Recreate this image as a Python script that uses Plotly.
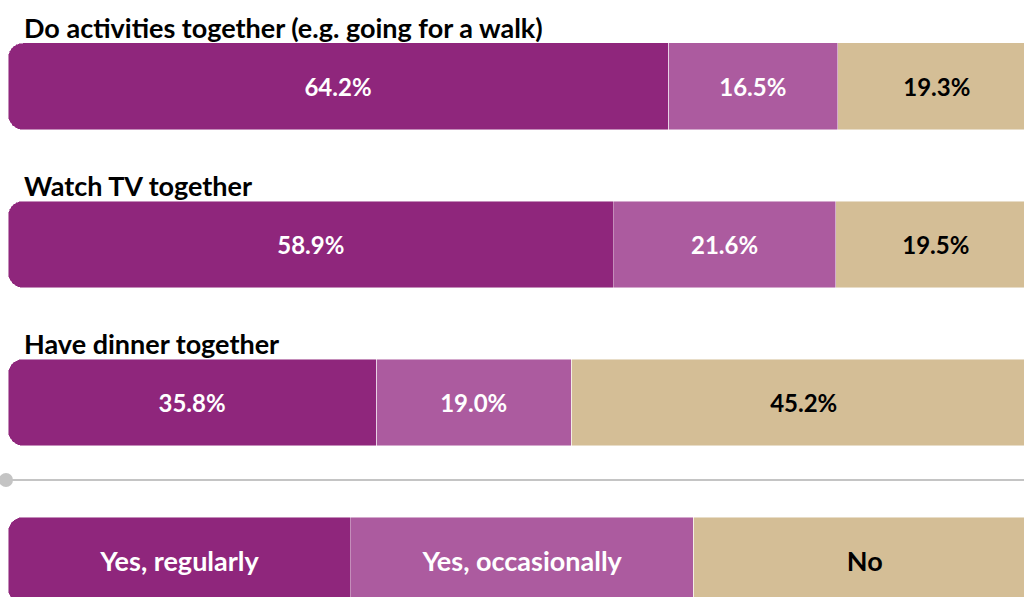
import plotly.graph_objects as go

categories = [
    "Do activities together (e.g. going for a walk)",
    "Watch TV together",
    "Have dinner together",
]
regularly = [64.2, 58.9, 35.8]
occasionally = [16.5, 21.6, 19.0]
no = [19.3, 19.5, 45.2]
legend_labels = ["Yes, regularly", "Yes, occasionally", "No"]
legend_share = 100 / 3

colors = {"reg": "#8F267C", "occ": "#AC5B9F", "no": "#D4BE96"}
FONT = "Lato"

legend_row = "__legend__"
ycats = categories + [legend_row]

fig = go.Figure()
# Stack from right to left (reversed axis) so that the rounded end is on the left
series = [
    (no, legend_labels[2], colors["no"], "black"),
    (occasionally, legend_labels[1], colors["occ"], "white"),
    (regularly, legend_labels[0], colors["reg"], "white"),
]
for vals, lab, col, tcol in series:
    xs = list(vals) + [legend_share]
    texts = [f"{v:.1f}%" for v in vals] + [lab]
    sizes = [24] * len(vals) + [27]
    fig.add_trace(go.Bar(
        y=ycats, x=xs, orientation="h", name=lab,
        marker=dict(color=col, line=dict(color="rgba(255,255,255,0.6)", width=0.8)),
        text=texts, textposition="inside", insidetextanchor="middle",
        textangle=0, constraintext="none",
        textfont=dict(family=FONT, size=sizes, color=tcol, weight="bold"),
        width=0.55, hoverinfo="skip", cliponaxis=True,
    ))

annotations = []
for c in categories:
    annotations.append(dict(
        x=22 / 1024, xref="paper", xanchor="left",
        y=c, yref="y", yanchor="middle", yshift=59,
        text=f"<b>{c}</b>", showarrow=False,
        font=dict(family=FONT, size=27, color="black"),
    ))

line_y = 1 - 480 / 597
shapes = [
    dict(type="line", xref="paper", yref="paper", x0=6 / 1024, x1=1,
         y0=line_y, y1=line_y, line=dict(color="#C4C4C4", width=2)),
    dict(type="circle", xref="paper", yref="paper", xsizemode="pixel", ysizemode="pixel",
         xanchor=6 / 1024, yanchor=line_y, x0=-7, x1=7, y0=-7, y1=7,
         fillcolor="#C4C4C4", line=dict(width=0)),
]

fig.update_layout(
    barmode="stack",
    barcornerradius=15,
    width=1024, height=597,
    margin=dict(l=0, r=0, t=0, b=0),
    paper_bgcolor="white", plot_bgcolor="white",
    showlegend=False,
    xaxis=dict(range=[100.78, 1.17], visible=False, fixedrange=True),
    yaxis=dict(type="category", categoryorder="array", categoryarray=ycats,
               range=[3.231, -0.547], visible=False, fixedrange=True),
    annotations=annotations,
    shapes=shapes,
    hovermode=False,
)

fig.write_html(
    "out.html",
    config={"displayModeBar": False},
    post_script="document.body.style.margin='0';document.body.style.overflow='hidden';",
)
